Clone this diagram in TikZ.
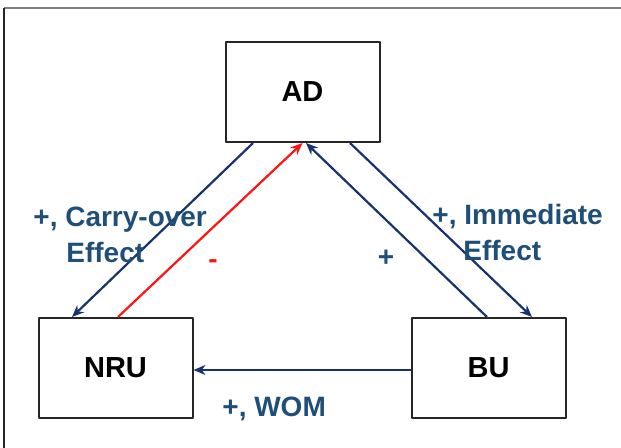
\documentclass[tikz,border=0pt]{standalone}
\usepackage{fontspec}
\setmainfont{Liberation Sans}
\usetikzlibrary{arrows.meta}
\definecolor{navy}{RGB}{24,50,112}
\definecolor{lblblue}{RGB}{31,78,121}
\definecolor{lnred}{RGB}{255,20,20}
\begin{document}
\begin{tikzpicture}[x=0.5pt,y=-0.5pt,>={Stealth[length=6pt,width=5pt]}, line join=round,
	box/.style={draw=black!85, line width=1pt, minimum width=77pt, minimum height=50pt, font=\fontsize{14.5}{17}\selectfont\bfseries},
	lbl/.style={text=lblblue, font=\fontsize{14}{18}\selectfont\bfseries, inner sep=0pt, align=left},
	link/.style={->, draw=navy, line width=1.1pt}]
	\useasboundingbox (0,0) rectangle (621,448);
	\draw[black!50, line width=0.8pt] (4,8) -- (621,8);
	\draw[black!85, line width=0.8pt] (4,8) -- (4,448);
	% Các ô
	\node[box] (AD) at (302.5,92) {AD};
	\node[box] (NRU) at (115.5,368) {NRU};
	\node[box] (BU) at (488.5,368) {BU};
	% Mũi tên
	\draw[link] ([xshift=-24.75pt]AD.south) -- ([xshift=-21.75pt]NRU.north);
	\draw[link, draw=lnred] ([xshift=1.25pt]NRU.north) -- (AD.south);
	\draw[link] ([xshift=-0.75pt]BU.north) -- ([xshift=1.75pt]AD.south);
	\draw[link] ([xshift=23.75pt]AD.south) -- ([xshift=21.75pt]BU.north);
	\draw[link] ([yshift=-1pt]BU.west) -- ([yshift=-1pt]NRU.east);
	% Nhãn
	\node[lbl, anchor=base west] (carry) at (33,263) {+, Carry-over\\\hspace*{16.5pt}Effect};
	\node[lbl, anchor=base west] (immed) at (432,261) {+, Immediate\\\hspace*{15.5pt}Effect};
	\node[lbl, text=lnred] (neg) at (213,264) {-};
	\node[lbl] (pos) at (386,258) {+};
	\node[lbl, anchor=base west] (wom) at (222,417) {+, WOM};
\end{tikzpicture}
\end{document}
